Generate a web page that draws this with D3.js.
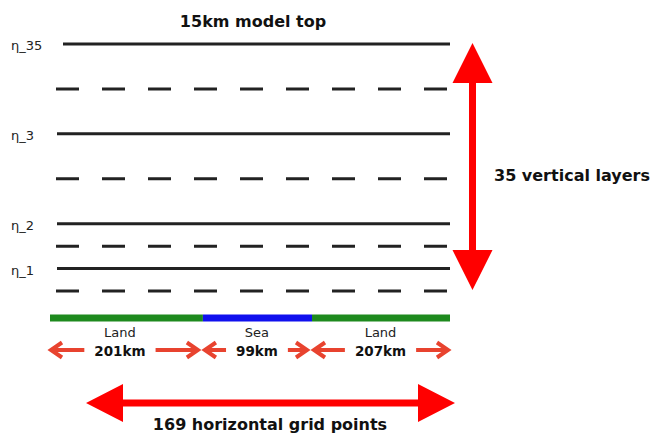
<!DOCTYPE html>
<html><head><meta charset="utf-8">
<script src="https://cdn.jsdelivr.net/npm/d3@7/dist/d3.min.js"></script>
<style>body{margin:0;background:#fff}svg{display:block}</style>
</head><body>
<svg id="c" width="652" height="433"></svg>
<script>
// ---- data ----
const fullLevelLabels = ["η_1", "η_2", "η_3", "η_35"];
const fullLevelValues = [1, 3, 7, 11];          // schematic level heights
const halfLevelValues = [0, 2, 5, 9];           // dashed half levels
const groundLevel = -1.2;
const segmentNames = ["Land", "Sea", "Land"];
const segmentKm = ["201km", "99km", "207km"];
const segmentBounds = [0, 64.6, 110.7, 169];    // schematic horizontal units
const segmentColors = ["#1e8a1e", "#1010ee", "#1e8a1e"];
const titleText = "15km model top";
const verticalText = "35 vertical layers";
const horizontalText = "169 horizontal grid points";

// ---- scales ----
const svg = d3.select("#c");
const y = d3.scaleLinear().domain([groundLevel, 11]).range([318, 44]);
const x = d3.scaleLinear().domain([0, 169]).range([50, 450]);
const font = "DejaVu Sans, sans-serif";
const labelShift = [-6.5, -0.5, -0.5];

function hArrow(x0, x1, yy, shaft, headLen, headHalf, leftHead, rightHead) {
  const p = d3.path();
  const a = leftHead ? x0 + headLen : x0, b = rightHead ? x1 - headLen : x1;
  const s = shaft / 2;
  p.moveTo(a, yy - s); p.lineTo(b, yy - s);
  if (rightHead) { p.lineTo(b, yy - headHalf); p.lineTo(x1, yy); p.lineTo(b, yy + headHalf); }
  p.lineTo(b, yy + s); p.lineTo(a, yy + s);
  if (leftHead) { p.lineTo(a, yy + headHalf); p.lineTo(x0, yy); p.lineTo(a, yy - headHalf); }
  p.closePath();
  return p.toString();
}
// stroked "open" arrow: shaft plus two head strokes
function openArrow(tip, tail, yy, hl, hh) {
  const dir = tail > tip ? 1 : -1;
  const p = d3.path();
  p.moveTo(tail, yy); p.lineTo(tip + dir * 1.5, yy);
  p.moveTo(tip + dir * hl, yy - hh); p.lineTo(tip, yy); p.lineTo(tip + dir * hl, yy + hh);
  return p.toString();
}
function vArrow(xx, y0, y1, shaft, headLen, headHalf) {
  const p = d3.path(), s = shaft / 2;
  const a = y0 + headLen, b = y1 - headLen;
  p.moveTo(xx, y0); p.lineTo(xx + headHalf, a); p.lineTo(xx + s, a);
  p.lineTo(xx + s, b); p.lineTo(xx + headHalf, b); p.lineTo(xx, y1);
  p.lineTo(xx - headHalf, b); p.lineTo(xx - s, b); p.lineTo(xx - s, a);
  p.lineTo(xx - headHalf, a); p.closePath();
  return p.toString();
}

// title
svg.append("text").attr("x", 253).attr("y", 27).attr("text-anchor", "middle")
  .attr("font-family", font).attr("font-weight", "bold").attr("font-size", 16)
  .attr("fill", "#111").text(titleText);

// full levels (solid)
svg.selectAll("line.full").data(fullLevelValues).join("line").attr("class", "full")
  .attr("x1", (d, i) => i === fullLevelValues.length - 1 ? 63 : 57).attr("x2", x(169))
  .attr("y1", d => y(d)).attr("y2", d => y(d))
  .attr("stroke", "#222").attr("stroke-width", 3);

// half levels (dashed)
svg.selectAll("line.half").data(halfLevelValues).join("line").attr("class", "half")
  .attr("x1", 56).attr("x2", x(169))
  .attr("y1", d => y(d)).attr("y2", d => y(d))
  .attr("stroke", "#222").attr("stroke-width", 3).attr("stroke-dasharray", "23,23");

// level labels
svg.selectAll("text.lvl").data(fullLevelValues).join("text").attr("class", "lvl")
  .attr("x", 11).attr("y", d => y(d) + 6)
  .attr("font-family", font).attr("font-size", 13).attr("fill", "#222")
  .text((d, i) => fullLevelLabels[i]);

// ground segments
const segs = segmentNames.map((n, i) => ({ name: n, km: segmentKm[i], a: segmentBounds[i], b: segmentBounds[i + 1], c: segmentColors[i], sh: labelShift[i] }));
svg.selectAll("line.seg").data(segs).join("line").attr("class", "seg")
  .attr("x1", d => x(d.a)).attr("x2", d => x(d.b))
  .attr("y1", y(groundLevel)).attr("y2", y(groundLevel))
  .attr("stroke", d => d.c).attr("stroke-width", 7);

// segment labels and arrows
const cxOf = d => (x(d.a) + x(d.b)) / 2 + d.sh;
const segG = svg.selectAll("g.seg").data(segs).join("g").attr("class", "seg");
segG.append("text").attr("x", cxOf).attr("y", 337)
  .attr("text-anchor", "middle").attr("font-family", font).attr("font-size", 13)
  .attr("fill", "#222").text(d => d.name);
segG.append("text").attr("x", cxOf).attr("y", 356)
  .attr("text-anchor", "middle").attr("font-family", font).attr("font-weight", "bold")
  .attr("font-size", 13.5).attr("fill", "#111").text(d => d.km);
segG.each(function (d, i) {
  const g = d3.select(this);
  const w = g.select("text:nth-child(2)").node().getComputedTextLength();
  const cx = cxOf(d);
  const x0 = x(d.a) + (i === 0 ? 1 : 2), x1 = x(d.b) - (i === segs.length - 1 ? 2 : 5);
  [openArrow(x0, cx - w / 2 - 10, 350, 11, 7.5), openArrow(x1, cx + w / 2 + 10, 350, 11, 7.5)]
    .forEach(dd => g.append("path").attr("d", dd).attr("fill", "none")
      .attr("stroke", "#e8432f").attr("stroke-width", 4).attr("stroke-linejoin", "miter"));
});

// big vertical arrow
svg.append("path").attr("d", vArrow(472.5, y(11) - 1, y(0) - 1, 7, 40, 20)).attr("fill", "#ff0000");
svg.append("text").attr("x", 494).attr("y", 181)
  .attr("font-family", font).attr("font-weight", "bold").attr("font-size", 16)
  .attr("fill", "#111").text(verticalText);

// big horizontal arrow
svg.append("path").attr("d", hArrow(86, 455, 403, 7, 37, 19, true, true)).attr("fill", "#ff0000");
svg.append("text").attr("x", 270).attr("y", 430).attr("text-anchor", "middle")
  .attr("font-family", font).attr("font-weight", "bold").attr("font-size", 16)
  .attr("fill", "#111").text(horizontalText);
</script>
</body></html>
